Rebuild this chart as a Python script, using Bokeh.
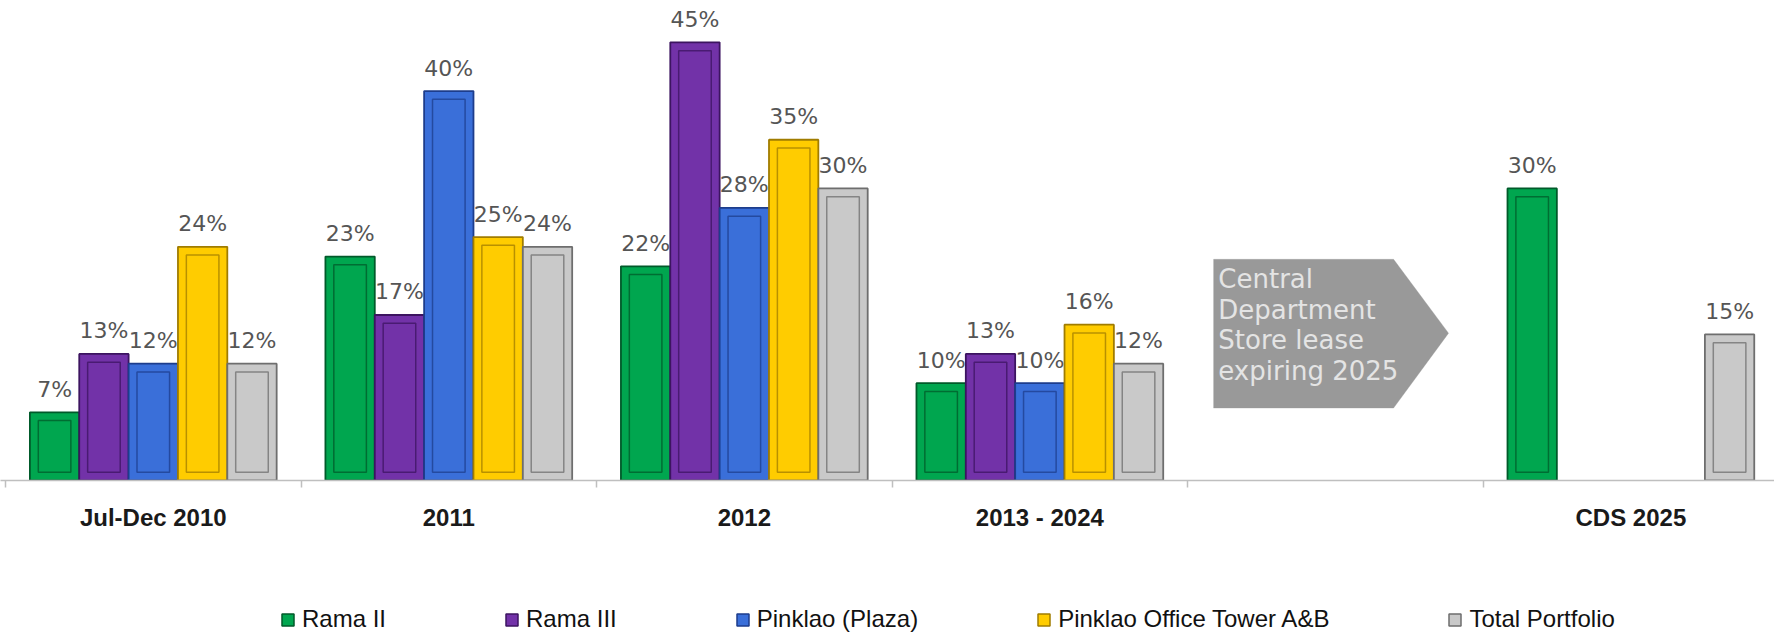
from bokeh.plotting import figure
from bokeh.layouts import column
from bokeh.models import (ColumnDataSource, Range1d, LinearAxis, FixedTicker,
                          Legend, LegendItem, PolyAnnotation)
from bokeh.core.properties import value
from bokeh.embed import file_html
from bokeh.resources import INLINE

# ---------------- data ----------------
categories = ["Jul-Dec 2010", "2011", "2012", "2013 - 2024", "", "CDS 2025"]
series_names = ["Rama II", "Rama III", "Pinklao (Plaza)",
                "Pinklao Office Tower A&B", "Total Portfolio"]
rama_ii = [7, 23, 22, 10, None, 30]
rama_iii = [13, 17, 45, 13, None, None]
pinklao_plaza = [12, 40, 28, 10, None, None]
pinklao_office = [24, 25, 35, 16, None, None]
total_portfolio = [12, 24, 30, 12, None, 15]
arrow_lines = ["Central", "Department", "Store lease", "expiring 2025"]

series_values = [rama_ii, rama_iii, pinklao_plaza, pinklao_office, total_portfolio]
fill_colors = ["#00a64f", "#7232a8", "#3a6fd9", "#ffcc00", "#c9c9c9"]
edge_colors = ["#005a2a", "#3c1460", "#1d3d8c", "#a07c00", "#6e6e6e"]

# ---------------- main figure ----------------
W = 1774
FRAME_H = 480
H1, H2 = 555, 80
p = figure(width=W, height=H1, output_backend="svg", toolbar_location=None,
           x_range=Range1d(-0.517, 5.486), y_range=Range1d(0, 49.3),
           min_border_left=0, min_border_right=0, min_border_top=0,
           min_border_bottom=H1 - FRAME_H, x_axis_location=None,
           y_axis_location=None)
p.xgrid.visible = False
p.ygrid.visible = False
p.outline_line_color = None
p.background_fill_color = "white"
p.border_fill_color = "white"

# legend strip below the chart
p2 = figure(width=W, height=H2, output_backend="svg", toolbar_location=None,
            x_range=Range1d(0, 1), y_range=Range1d(0, 1),
            min_border_left=0, min_border_right=0, min_border_top=0,
            min_border_bottom=0, x_axis_location=None, y_axis_location=None)
p2.xgrid.visible = False
p2.ygrid.visible = False
p2.outline_line_color = None
p2.border_fill_color = "white"

bar_w = 0.167
n = len(series_names)
legend_items = []
for j, (name, vals) in enumerate(zip(series_names, series_values)):
    xs, tops, labels = [], [], []
    for i, v in enumerate(vals):
        if v is None:
            continue
        xs.append(i + (j - (n - 1) / 2) * bar_w)
        tops.append(v)
        labels.append(f"{v}%")
    src = ColumnDataSource(dict(x=xs, top=tops, label=labels,
                                itop=[t - 0.85 for t in tops]))
    p.vbar(x="x", top="top", bottom=0, width=bar_w, source=src,
           fill_color=fill_colors[j], line_color=edge_colors[j], line_width=1.8)
    # bevel inner face
    p.vbar(x="x", top="itop", bottom=0.85, width=bar_w * 0.66, source=src,
           fill_color=fill_colors[j], line_color=edge_colors[j],
           line_alpha=0.75, line_width=1.5)
    p.text(x="x", y="top", text="label", source=src, text_align="center",
           text_baseline="alphabetic", y_offset=-23,
           text_font=value("DejaVu Sans"), text_font_size="22px",
           text_color="#555555")
    # legend key (hidden proxy renderer in the legend strip)
    proxy = p2.vbar(x=[0.5], top=[1], width=0.1, fill_color=fill_colors[j],
                    line_color=edge_colors[j], line_width=1.5, visible=False)
    legend_items.append(LegendItem(label=name, renderers=[proxy]))

# ---------------- arrow callout in the blank category ----------------
ci = categories.index("")
arrow = PolyAnnotation(
    xs=[ci - 0.412, ci + 0.197, ci + 0.383, ci + 0.197, ci - 0.412],
    ys=[22.72, 22.72, 15.13, 7.44, 7.44],
    fill_color="#999999", fill_alpha=1.0, line_color="#999999", line_width=1,
    level="underlay")
p.add_layout(arrow)
line_step = 3.13
p.text(x=[ci - 0.396] * len(arrow_lines),
       y=[20.67 - k * line_step for k in range(len(arrow_lines))],
       text=arrow_lines, text_align="left", text_baseline="alphabetic",
       text_font=value("DejaVu Sans"), text_font_size="26px",
       text_color="#e4e4e4")

# ---------------- x axis ----------------
xaxis = LinearAxis(
    ticker=FixedTicker(ticks=list(range(len(categories))),
                       minor_ticks=[i - 0.5 for i in range(len(categories) + 1)]),
    major_label_overrides={i: c for i, c in enumerate(categories)})
xaxis.axis_line_color = "#bfbfbf"
xaxis.axis_line_width = 1.5
xaxis.major_tick_line_color = None
xaxis.major_tick_out = 0
xaxis.major_tick_in = 0
xaxis.minor_tick_line_color = "#bfbfbf"
xaxis.minor_tick_line_width = 1.5
xaxis.minor_tick_out = 7
xaxis.minor_tick_in = 0
xaxis.major_label_standoff = 16
xaxis.major_label_text_font = "Liberation Sans"
xaxis.major_label_text_font_style = "bold"
xaxis.major_label_text_font_size = "24px"
xaxis.major_label_text_color = "#1a1a1a"
p.add_layout(xaxis, "below")

# ---------------- legend ----------------
legend = Legend(items=legend_items, orientation="horizontal",
                location=(280, 2), glyph_width=15, glyph_height=15,
                label_standoff=7, spacing=118, padding=0, margin=0,
                border_line_color=None, background_fill_alpha=0,
                label_text_font="Liberation Sans", label_text_font_size="24px",
                label_text_color="#111111")
p2.add_layout(legend)

layout = column(p, p2, spacing=0)
open("out.html", "w").write(file_html(layout, INLINE))
